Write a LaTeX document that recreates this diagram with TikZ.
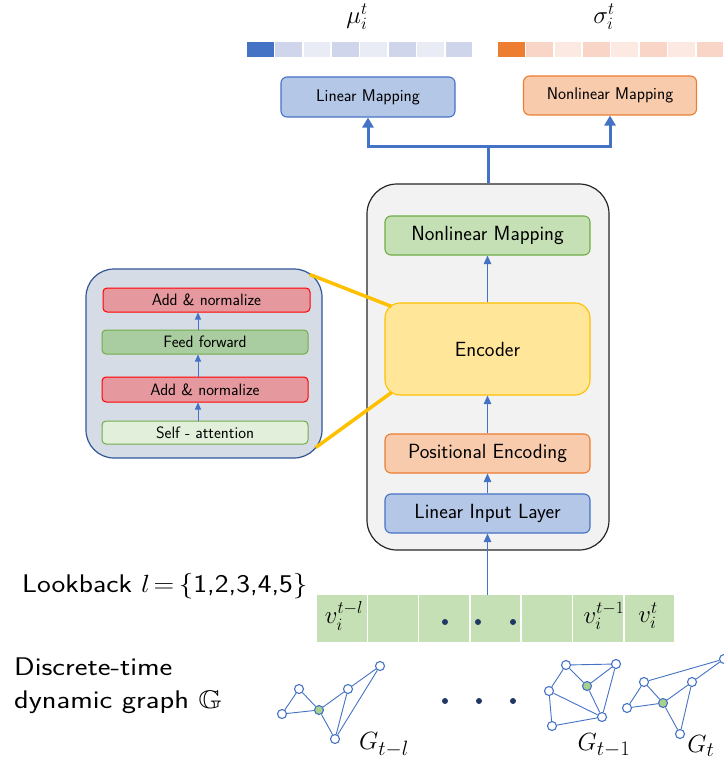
\documentclass[tikz,border=0pt]{standalone}
\usepackage{amssymb}
\usepackage{graphicx}
\usetikzlibrary{arrows.meta}

\definecolor{accBlue}{HTML}{4472C4}
\definecolor{lightBlue}{HTML}{B4C7E7}
\definecolor{accOrange}{HTML}{ED7D31}
\definecolor{lightOrange}{HTML}{F8CBAD}
\definecolor{accGreen}{HTML}{70AD47}
\definecolor{lightGreen}{HTML}{C5E0B4}
\definecolor{paleGreen}{HTML}{E2EFDA}
\definecolor{midGreen}{HTML}{A9CDA0}
\definecolor{nodeGreen}{HTML}{A9D18E}
\definecolor{accGold}{HTML}{FFC000}
\definecolor{lightGold}{HTML}{FFE699}
\definecolor{panelFill}{HTML}{D6DCE5}
\definecolor{panelLine}{HTML}{2F5597}
\definecolor{outerFill}{HTML}{F2F2F2}
\definecolor{outerLine}{HTML}{262626}
\definecolor{normFill}{HTML}{E5989E}
\definecolor{normLine}{HTML}{FF0000}
\definecolor{navy}{HTML}{203864}
\definecolor{muMid}{HTML}{CFD5EA}
\definecolor{muPale}{HTML}{E9EBF5}
\definecolor{sgMid}{HTML}{F8D5C6}
\definecolor{sgPale}{HTML}{FBE9E2}

% wide sans labels on the left
\newcommand{\widelabel}[2][1.19]{\scalebox{#1}[1]{#2}}

\tikzset{
  block/.style={rectangle, rounded corners=6pt, line width=1.1pt, inner sep=0pt,
    font=\sffamily\fontsize{20.5}{24}\selectfont},
  headbox/.style={block, font=\sffamily\fontsize{17}{20}\selectfont},
  layerbox/.style={block, rounded corners=4pt, line width=1pt,
    font=\sffamily\fontsize{16.5}{19}\selectfont},
  flow/.style={draw=accBlue, line width=0.9pt, -{Triangle[width=7.5pt,length=8.5pt]}},
  bus/.style={draw=accBlue, line width=3pt},
  busarrow/.style={bus, -{Triangle[width=11pt,length=10pt]}},
  zoomline/.style={draw=accGold, line width=3.5pt},
  gnode/.style={circle, draw=accBlue, fill=white, line width=1.1pt,
    minimum size=9pt, inner sep=0pt},
  gfocus/.style={gnode, fill=nodeGreen},
  gedge/.style={draw=accBlue, line width=0.9pt},
  cell/.style={rectangle, fill=lightGreen, minimum width=49.8pt,
    minimum height=47pt, inner sep=0pt},
  chip/.style={rectangle, minimum width=26.9pt, minimum height=15pt, inner sep=0pt},
  seqdot/.style={circle, fill=navy, minimum size=6pt, inner sep=0pt},
  biglabel/.style={font=\sffamily\fontsize{25.5}{30}\selectfont, inner sep=0pt},
  mathlabel/.style={font=\fontsize{25}{30}\selectfont, inner sep=0pt},
  vlabel/.style={font=\fontsize{25}{30}\selectfont, inner sep=0pt},
  glabel/.style={font=\fontsize{30}{36}\selectfont, inner sep=0pt},
}

\begin{document}
\begin{tikzpicture}[x=1pt, y=-1pt]
\useasboundingbox (0,0) rectangle (723,762);

% output embeddings
\node[mathlabel] (mu) at (357,17) {$\mu_i^t$};
\node[mathlabel] (sg) at (604,17) {$\sigma_i^t$};
\foreach \k/\c in {1/accBlue,2/muMid,3/muPale,4/muMid,5/muPale,6/muMid,7/muPale,8/muMid}
  \node[chip, fill=\c] (mu\k) at ({246+28.4*(\k-0.5)},50) {};
\foreach \k/\c in {1/accOrange,2/sgMid,3/sgPale,4/sgMid,5/sgPale,6/sgMid,7/sgPale,8/sgMid}
  \node[chip, fill=\c] (sg\k) at ({497+28.4*(\k-0.5)},50) {};

% output heads
\node[headbox, draw=accBlue, fill=lightBlue, minimum width=174pt, minimum height=40pt]
  (linmap) at (368,97) {Linear Mapping};
\node[headbox, draw=accOrange, fill=lightOrange, minimum width=173pt, minimum height=39pt]
  (nonmap) at (610,95.5) {Nonlinear Mapping};

% main model column
\node[rectangle, rounded corners=30pt, draw=outerLine, fill=outerFill, line width=1.2pt,
  minimum width=242pt, minimum height=366pt] (outer) at (488,367) {};
\node[block, draw=accGreen, fill=lightGreen, minimum width=205pt, minimum height=39pt]
  (nlm) at (487.5,235.5) {Nonlinear Mapping};
\node[block, rounded corners=15pt, draw=accGold, fill=lightGold, minimum width=205pt,
  minimum height=92pt] (enc) at (487.5,349) {Encoder};
\node[block, draw=accOrange, fill=lightOrange, minimum width=205pt, minimum height=39pt]
  (pos) at (487.5,453.5) {Positional Encoding};
\node[block, draw=accBlue, fill=lightBlue, minimum width=205pt, minimum height=39pt]
  (lin) at (487.5,513.5) {Linear Input Layer};

\draw[flow] (pos.north) -- (enc.south);
\draw[flow] (lin.north) -- (pos.south);
\draw[flow] (enc.north) -- (nlm.south);

% split towards the two heads
\coordinate (split) at (488,147);
\draw[bus] (outer.north) -- (split);
\draw[busarrow] (split) -| (linmap.south);
\draw[busarrow] (split) -| (nonmap.south);

% encoder detail panel
\node[rectangle, rounded corners=28pt, draw=panelLine, fill=panelFill, line width=1.2pt,
  minimum width=236pt, minimum height=189pt] (panel) at (204,363.5) {};
\node[layerbox, draw=normLine, fill=normFill, minimum width=207pt, minimum height=24pt]
  (an2) at (206.5,300) {Add \& normalize};
\node[layerbox, draw=accGreen, fill=midGreen, minimum width=206pt, minimum height=24pt]
  (ff) at (205,342) {Feed forward};
\node[layerbox, draw=normLine, fill=normFill, minimum width=206pt, minimum height=25pt]
  (an1) at (205,389.5) {Add \& normalize};
\node[layerbox, draw=accGreen, fill=paleGreen, minimum width=206pt, minimum height=23pt]
  (sa) at (205,432.5) {Self - attention};
\coordinate (axis) at (198,0);
\begin{scope}[flow/.append style={line width=0.8pt, -{Triangle[width=6pt,length=7pt]}}]
  \draw[flow] (axis |- sa.north) -- (axis |- an1.south);
  \draw[flow] (axis |- an1.north) -- (axis |- ff.south);
  \draw[flow] (axis |- ff.north) -- (axis |- an2.south);
\end{scope}

% zoom lines from the encoder to its detail
\draw[zoomline] ([shift={(-13,6)}]panel.north east) -- ([shift={(7,4)}]enc.north west);
\draw[zoomline] ([shift={(-7,-11)}]panel.south east) -- ([shift={(7,-3)}]enc.south west);

% lookback sequence
\node[biglabel, anchor=base west] (look) at (22,592)
  {\widelabel[1.15]{Lookback $l$\kern3pt$=$\kern4pt\{1,2,3,4,5\}}};
\foreach \k in {1,...,7}
  \node[cell] (c\k) at ({316+51.3*(\k-0.5)},618.5) {};
\node[vlabel] (v1) at (344,616) {$v_i^{t-l}$};
\node[vlabel] (v6) at (604,616) {$v_i^{t-1}$};
\node[vlabel] (v7) at (648,616) {$v_i^{t}$};
\node[seqdot] (sd1) at (445,622) {};
\node[seqdot] (sd2) at (478,622) {};
\node[seqdot] (sd3) at (513,622) {};
\draw[flow] (lin.south |- c4.north) -- (lin.south);

% discrete-time dynamic graph
\node[biglabel, anchor=base west] (dt1) at (14,675) {\widelabel{Discrete-time}};
\node[biglabel, anchor=base west] (dt2) at (14,708) {\widelabel{dynamic graph $\mathbb{G}$}};

% snapshot G_{t-l}
\node[gnode] (A) at (282,714) {};
\node[gnode] (B) at (299,689) {};
\node[gfocus] (C) at (319,710) {};
\node[gnode] (D) at (348,689) {};
\node[gnode] (E) at (380,666) {};
\node[gnode] (F) at (335,739) {};
\foreach \u/\v in {A/B,A/C,B/C,C/D,C/F,D/E,D/F,E/F}
  \draw[gedge] (\u) -- (\v);
\node[glabel] (g1) at (384,745) {$G_{t-l}$};

\node[seqdot] (gd1) at (445,701) {};
\node[seqdot] (gd2) at (479,701) {};
\node[seqdot] (gd3) at (513,701) {};

% snapshot G_{t-1}
\node[gnode] (a) at (566,665) {};
\node[gnode] (b) at (616,664) {};
\node[gnode] (c) at (549,691) {};
\node[gfocus] (d) at (587,686) {};
\node[gnode] (e) at (602,717) {};
\node[gnode] (f) at (552,726) {};
\foreach \u/\v in {a/b,a/c,a/d,d/b,d/e,b/e,c/e,c/f,f/e}
  \draw[gedge] (\u) -- (\v);
\node[glabel] (g2) at (604,745) {$G_{t-1}$};

% snapshot G_t
\node[gnode] (p) at (644,682) {};
\node[gnode] (q) at (627,708) {};
\node[gfocus] (r) at (663,703) {};
\node[gnode] (s) at (692,682) {};
\node[gnode] (u) at (680,734) {};
\node[gnode] (w) at (724,659) {};
\foreach \x/\y in {p/q,q/r,p/r,r/s,s/w,p/w,s/u,r/u}
  \draw[gedge] (\x) -- (\y);
\node[glabel] (g3) at (701,746) {$G_t$};
\end{tikzpicture}
\end{document}
